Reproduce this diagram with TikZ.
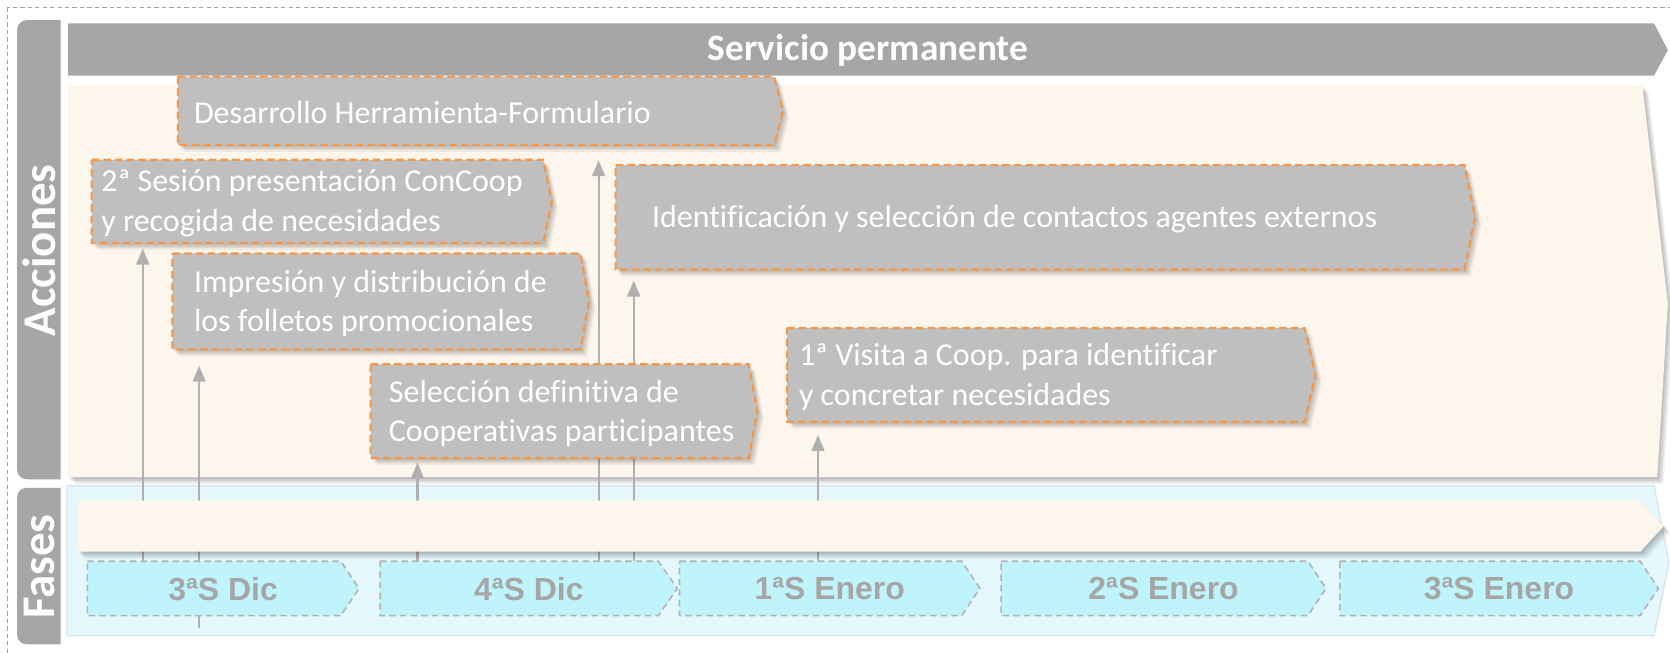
\documentclass[tikz,border=0pt]{standalone}
\usepackage{fontspec}
\setmainfont{Carlito}[Ligatures=NoCommon]
\newfontfamily\weekfont{Liberation Sans}
\usetikzlibrary{arrows.meta}
\pgfdeclarelayer{back}
\pgfdeclarelayer{lines}
\pgfsetlayers{back,lines,main}
\definecolor{tabgray}{HTML}{A6A6A6}
\definecolor{boxgray}{HTML}{BFBFBF}
\definecolor{dashor}{HTML}{F79646}
\definecolor{cream}{HTML}{FDF6EC}
\definecolor{paleblue}{HTML}{E5F8FE}
\definecolor{paleborder}{HTML}{D8E4EC}
\definecolor{weekfill}{HTML}{C0F4FC}
\definecolor{weekborder}{HTML}{B2B2B2}
\definecolor{linegray}{HTML}{B0B0B0}
\definecolor{outerdash}{HTML}{A0A0A0}
\tikzset{
  softshadow/.style={
    preaction={fill=black,opacity=.07,transform canvas={shift={(1.5pt,-2pt)}}},
    preaction={fill=black,opacity=.07,transform canvas={shift={(3pt,-3.5pt)}}},
    preaction={fill=black,opacity=.07,transform canvas={shift={(4.5pt,-5pt)}}},
    preaction={fill=black,opacity=.05,transform canvas={shift={(6pt,-6.5pt)}}}},
  actshape/.style={softshadow, fill=boxgray, draw=dashor, line width=2pt, dash pattern=on 7pt off 4pt},
  acttext/.style={anchor=west, text=white, align=left, inner sep=0pt, font=\fontsize{30}{37}\selectfont},
  weekshape/.style={fill=weekfill, draw=weekborder, line width=1.5pt, dash pattern=on 6pt off 4pt},
  weektext/.style={text=tabgray, inner sep=0pt, font=\weekfont\bfseries\fontsize{30}{33}\selectfont},
  tablabel/.style={text=white, inner sep=0pt, font=\bfseries\fontsize{44}{48}\selectfont, rotate=90},
  conn/.style={draw=linegray, line width=2pt, -{Triangle[width=12pt,length=15pt]}},
  body/.style={inner sep=0pt, anchor=north west},
}
\newcommand\actbox[8]{%
  \draw[actshape] (#2,#3) -- (#4,#3) -- ({#4+#6},{(#3+#5)/2}) -- (#4,#5) -- (#2,#5) -- cycle;
  \node[body, minimum width={(#4-#2)*1pt}, minimum height={(#5-#3)*1pt}] (#1) at (#2,#3) {};
  \node[acttext] (#1-t) at (#7,{(#3+#5)/2+2}) {#8};
}
\newcommand\weekbox[5]{%
  \draw[weekshape] (#2,527) -- (#3,527) -- (#4,552.5) -- (#3,578) -- (#2,578) -- cycle;
  \node[body, minimum width={(#3-#2)*1pt}, minimum height=51pt] (#1) at (#2,527) {};
  \node[weektext] (#1-t) at ({(#2+#4)/2},553) {#5};
}
\begin{document}
\begin{tikzpicture}[x=1pt,y=-1pt]
\useasboundingbox (0,0) rectangle (1568,613);
\clip (0,0) rectangle (1568,613);

\begin{pgfonlayer}{back}
\fill[white] (0,0) rectangle (1568,613);
% outer dashed frame
\draw[outerdash, line width=1pt, dash pattern=on 4pt off 3pt] (7,7) rectangle (1590,630);
% tabs
\fill[tabgray] (57,19) [rounded corners=9pt] -- (16,19) -- (16,450) [sharp corners] -- (57,450) -- cycle;
\fill[tabgray] (57,458) [rounded corners=9pt] -- (16,458) -- (16,605) [sharp corners] -- (57,605) -- cycle;
% acciones area
\fill[cream, softshadow]
  (64,80) -- (1542,80) -- (1566,285) -- (1556,448) -- (64,448) -- cycle;
% fases area
\draw[paleborder, fill=paleblue, line width=1.2pt]
  (63,456) -- (1553,456) -- (1567,528) -- (1553,597) -- (63,597) -- cycle;
\end{pgfonlayer}

\node[tablabel] (lblacc) at (37,235) {Acciones};
\node[tablabel] (lblfas) at (37,532) {Fases};

% servicio permanente bar
\fill[tabgray] (64,22) -- (1553,22) -- (1566,47) -- (1553,71) -- (64,71) -- cycle;
\node[text=white, font=\bfseries\fontsize{35}{38}\selectfont] (serv) at (815,47) {Servicio permanente};

% timeline bar in fases
\fill[cream, softshadow]
  (73,470) -- (1540,470) -- (1562,494) -- (1540,518) -- (73,518) -- cycle;

% weeks
\weekbox{w1}{82}{320}{337}{3ªS Dic}
\weekbox{w2}{357}{618}{636}{4ªS Dic}
\weekbox{w3}{638}{903}{920}{1ªS Enero}
\weekbox{w4}{940}{1228}{1245}{2ªS Enero}
\weekbox{w5}{1258}{1540}{1557}{3ªS Enero}

% actions
\actbox{b1}{167}{72}{727}{136}{8}{182}{Desarrollo Herramienta-Formulario}
\actbox{b2}{86}{150}{510}{228}{8}{95}{2ª Sesión presentación ConCoop\\y recogida de necesidades}
\actbox{b3}{162}{238}{545}{328}{8}{182}{Impresión y distribución de\\los folletos promocionales}
\actbox{b4}{578}{155}{1375}{253}{10}{612}{Identificación y selección de contactos agentes externos}
\actbox{b5}{348}{342}{703}{430}{8}{365}{Selección definitiva de\\Cooperativas participantes}
\actbox{b6}{739}{308}{1225}{396}{10}{750}{1ª Visita a Coop. para identificar\\y concretar necesidades}

% connectors
\begin{pgfonlayer}{lines}
\coordinate (p1) at (134,0);
\coordinate (p2) at (187,590);
\coordinate (p3) at (392,0);
\coordinate (p4) at (562,0);
\coordinate (p5) at (595,0);
\coordinate (p6) at (768,0);
\draw[conn, shorten >=5pt] (p1 |- w1.north) -- (p1 |- b2.south);
\draw[conn, shorten >=15pt] (p2) -- (p2 |- b3.south);
\draw[conn, shorten >=4pt] (p3 |- w2.north) -- (p3 |- b5.south);
\draw[conn, shorten >=14pt] (p4 |- w2.north) -- (p4 |- b1.south);
\draw[conn, shorten >=10pt] (p5 |- w2.north) -- (p5 |- b4.south);
\draw[conn, shorten >=12pt] (p6 |- w3.north) -- (p6 |- b6.south);
\end{pgfonlayer}
\end{tikzpicture}
\end{document}
